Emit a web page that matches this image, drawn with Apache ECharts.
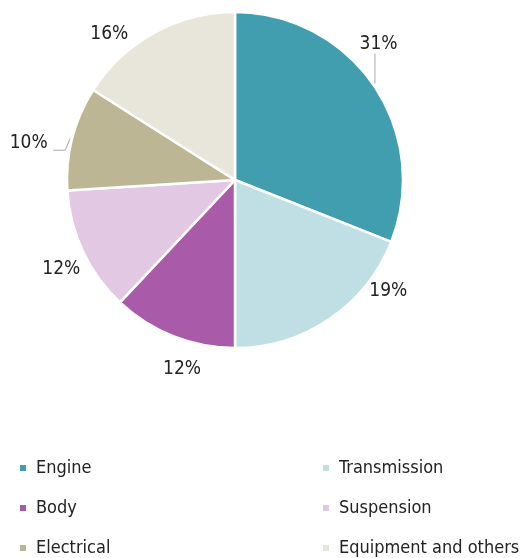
<!DOCTYPE html>
<html>
<head>
<meta charset="utf-8">
<script src="https://cdn.jsdelivr.net/npm/echarts@6/dist/echarts.min.js"></script>
<style>
html,body{margin:0;padding:0;background:#fff;}
#main{width:531px;height:558px;}
</style>
</head>
<body>
<div id="main"></div>
<script>
// 部件分类及占比
var categories = ["Engine", "Transmission", "Body", "Suspension", "Electrical", "Equipment and others"];
var shares = [31, 19, 12, 12, 10, 16];
var colors = ["#419eaf", "#bfdfe4", "#a95ba9", "#e3c8e3", "#bcb694", "#e8e6db"];
var withLine = [true, false, false, false, true, false];
// 标签微调偏移
var labelShift = [[-37, -34], [21, -39], [44, 20], [21, 12], [0, 8], [-8, 14]];

var fontName = "'DejaVu Sans Condensed', 'Liberation Sans Narrow', sans-serif";

var myChart = echarts.init(document.getElementById('main'));

var pieData = [];
for (var i = 0; i < categories.length; i++) {
    pieData.push({
        name: categories[i],
        value: shares[i],
        itemStyle: {color: colors[i]},
        labelLine: {show: withLine[i]}
    });
}

var legendStyle = {
    orient: 'vertical',
    top: 453, height: 110,
    itemWidth: 8, itemHeight: 8, itemGap: 20,
    icon: 'rect',
    textStyle: {fontFamily: fontName, fontSize: 18, lineHeight: 20, color: '#222', padding: [0, 0, 0, 4]}
};

var option = {
    animation: false,
    legend: [
        echarts.util.merge({data: [categories[0], categories[2], categories[4]], left: 13}, legendStyle),
        echarts.util.merge({data: [categories[1], categories[3], categories[5]], left: 316}, legendStyle)
    ],
    series: [
        {
            type: 'pie',
            center: [235, 180],
            radius: 168,
            startAngle: 90,
            clockwise: true,
            data: pieData,
            itemStyle: {borderColor: '#fff', borderWidth: 2.5},
            label: {
                show: true,
                position: 'outside',
                formatter: '{c}%',
                overflow: 'none',
                fontFamily: fontName,
                fontSize: 19,
                color: '#222'
            },
            labelLine: {length: 14, length2: 6, lineStyle: {color: '#a8a8a8', width: 1}},
            labelLayout: function (params) {
                var i = params.dataIndex;
                var s = labelShift[i];
                var res = {dx: s[0], dy: s[1]};
                var p = params.labelLinePoints;
                if (p && i === 0) {
                    res.labelLinePoints = [[p[0][0] + 1, p[0][1] - 2], [p[0][0] + 1, p[0][1] - 32], [p[0][0] + 1, p[0][1] - 32]];
                } else if (p && i === 4) {
                    res.labelLinePoints = [[p[0][0] - 2, p[0][1]], [p[0][0] - 7, p[0][1] + 12], [p[0][0] - 19, p[0][1] + 12]];
                }
                return res;
            }
        }
    ]
};

myChart.setOption(option);
</script>
</body>
</html>
